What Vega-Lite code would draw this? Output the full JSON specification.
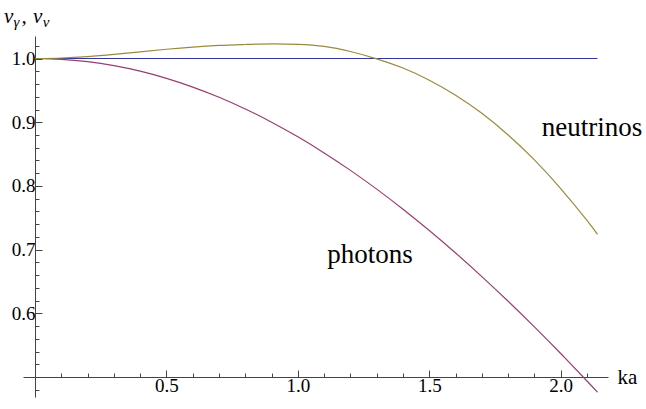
{
  "$schema": "https://vega.github.io/schema/vega-lite/v6.json",
  "width": 585,
  "height": 361,
  "autosize": {"type": "none"},
  "padding": {"left": 23, "top": 36, "right": 38, "bottom": 12},
  "background": "white",
  "config": {"view": {"stroke": null}},
  "datasets": {
    "curves": [
      {"series": "flat", "ka": 0, "v": 1.0},
      {"series": "flat", "ka": 2.14, "v": 1.0},
      {"series": "photons", "ka": 0, "v": 1.0},
      {"series": "photons", "ka": 0.1, "v": 0.9987},
      {"series": "photons", "ka": 0.2, "v": 0.995},
      {"series": "photons", "ka": 0.3, "v": 0.9887},
      {"series": "photons", "ka": 0.4, "v": 0.9801},
      {"series": "photons", "ka": 0.5, "v": 0.9688},
      {"series": "photons", "ka": 0.6, "v": 0.9552},
      {"series": "photons", "ka": 0.7, "v": 0.9392},
      {"series": "photons", "ka": 0.8, "v": 0.9208},
      {"series": "photons", "ka": 0.9, "v": 0.9001},
      {"series": "photons", "ka": 1.0, "v": 0.8771},
      {"series": "photons", "ka": 1.1, "v": 0.8519},
      {"series": "photons", "ka": 1.2, "v": 0.8245},
      {"series": "photons", "ka": 1.3, "v": 0.7951},
      {"series": "photons", "ka": 1.4, "v": 0.7636},
      {"series": "photons", "ka": 1.5, "v": 0.7302},
      {"series": "photons", "ka": 1.6, "v": 0.695},
      {"series": "photons", "ka": 1.7, "v": 0.6579},
      {"series": "photons", "ka": 1.8, "v": 0.6192},
      {"series": "photons", "ka": 1.9, "v": 0.579},
      {"series": "photons", "ka": 2.0, "v": 0.5372},
      {"series": "photons", "ka": 2.1, "v": 0.4941},
      {"series": "photons", "ka": 2.14, "v": 0.4765},
      {"series": "neutrinos", "ka": 0, "v": 1.0},
      {"series": "neutrinos", "ka": 0.1, "v": 1.0008},
      {"series": "neutrinos", "ka": 0.2, "v": 1.003},
      {"series": "neutrinos", "ka": 0.3, "v": 1.0065},
      {"series": "neutrinos", "ka": 0.4, "v": 1.0105},
      {"series": "neutrinos", "ka": 0.5, "v": 1.0145},
      {"series": "neutrinos", "ka": 0.6, "v": 1.018},
      {"series": "neutrinos", "ka": 0.7, "v": 1.0205},
      {"series": "neutrinos", "ka": 0.8, "v": 1.022},
      {"series": "neutrinos", "ka": 0.9, "v": 1.023},
      {"series": "neutrinos", "ka": 1.0, "v": 1.0222},
      {"series": "neutrinos", "ka": 1.1, "v": 1.019},
      {"series": "neutrinos", "ka": 1.2, "v": 1.011},
      {"series": "neutrinos", "ka": 1.3, "v": 0.9995},
      {"series": "neutrinos", "ka": 1.4, "v": 0.985},
      {"series": "neutrinos", "ka": 1.5, "v": 0.966},
      {"series": "neutrinos", "ka": 1.6, "v": 0.9425},
      {"series": "neutrinos", "ka": 1.7, "v": 0.914},
      {"series": "neutrinos", "ka": 1.8, "v": 0.88},
      {"series": "neutrinos", "ka": 1.9, "v": 0.841},
      {"series": "neutrinos", "ka": 2.0, "v": 0.796},
      {"series": "neutrinos", "ka": 2.1, "v": 0.746},
      {"series": "neutrinos", "ka": 2.14, "v": 0.724}
    ],
    "labels": [
      {"text": "photons", "ka": 1.112, "v": 0.6787},
      {"text": "neutrinos", "ka": 1.928, "v": 0.8777}
    ],
    "mainsym": [
      {"text": "v", "ka": -0.118, "v": 1.0564},
      {"text": ",", "ka": -0.052, "v": 1.0564},
      {"text": "v", "ka": -0.008, "v": 1.0564}
    ],
    "subsym": [
      {"text": "γ", "ka": -0.082, "v": 1.0502},
      {"text": "ν", "ka": 0.029, "v": 1.0502}
    ]
  },
  "layer": [
    {
      "data": {"name": "curves"},
      "mark": {"type": "line", "strokeWidth": 1.2, "clip": true, "interpolate": "natural"},
      "encoding": {
        "x": {
          "field": "ka", "type": "quantitative",
          "scale": {"domain": [-0.046, 2.18], "nice": false, "zero": false},
          "axis": {
            "orient": "bottom", "offset": -20, "values": [0.5, 1.0, 1.5, 2.0], "format": ".1f",
            "tickSize": -7, "tickColor": "#444", "domainColor": "#444", "domainWidth": 1, "tickWidth": 1,
            "grid": false, "labelFontSize": 19, "labelColor": "black", "labelFont": "Liberation Serif",
            "labelPadding": 6, "labelFlush": false,
            "title": "ka", "titleX": 594, "titleY": 0, "titleAlign": "left", "titleBaseline": "middle",
            "titleAngle": 0, "titleFontSize": 21, "titleFontWeight": "normal", "titleColor": "black",
            "titleFont": "Liberation Serif"
          }
        },
        "y": {
          "field": "v", "type": "quantitative",
          "scale": {"domain": [0.469, 1.0353], "nice": false, "zero": false},
          "axis": {
            "orient": "left", "offset": -12, "values": [0.6, 0.7, 0.8, 0.9, 1.0], "format": ".1f",
            "tickSize": -7, "tickColor": "#444", "domainColor": "#444", "domainWidth": 1, "tickWidth": 1,
            "grid": false, "labelFontSize": 19, "labelColor": "black", "labelFont": "Liberation Serif",
            "labelPadding": 7, "labelFlush": false, "title": null
          }
        },
        "color": {
          "field": "series", "type": "nominal",
          "scale": {"domain": ["flat", "photons", "neutrinos"], "range": ["#35359f", "#993d71", "#998b3d"]},
          "legend": null
        }
      }
    },
    {
      "data": {"name": "curves"},
      "mark": {"type": "point", "opacity": 0},
      "encoding": {
        "x": {
          "field": "ka", "type": "quantitative",
          "axis": {
            "orient": "bottom", "offset": -20,
            "values": [0.1, 0.2, 0.3, 0.4, 0.6, 0.7, 0.8, 0.9, 1.1, 1.2, 1.3, 1.4, 1.6, 1.7, 1.8, 1.9, 2.1],
            "tickSize": -4, "tickColor": "#444", "tickWidth": 1, "domain": false, "labels": false, "grid": false, "title": null
          }
        },
        "y": {
          "field": "v", "type": "quantitative",
          "axis": {
            "orient": "left", "offset": -12,
            "values": [0.48, 0.52, 0.54, 0.56, 0.58, 0.62, 0.64, 0.66, 0.68, 0.72, 0.74, 0.76, 0.78, 0.82, 0.84, 0.86, 0.88, 0.92, 0.94, 0.96, 0.98, 1.02],
            "tickSize": -4, "tickColor": "#444", "tickWidth": 1, "domain": false, "labels": false, "grid": false, "title": null
          }
        }
      }
    },
    {
      "data": {"name": "labels"},
      "mark": {"type": "text", "align": "left", "baseline": "alphabetic", "font": "Liberation Serif", "fontSize": 27, "color": "black"},
      "encoding": {
        "x": {"field": "ka", "type": "quantitative", "axis": null},
        "y": {"field": "v", "type": "quantitative", "axis": null},
        "text": {"field": "text"}
      }
    },
    {
      "data": {"name": "mainsym"},
      "mark": {"type": "text", "align": "left", "baseline": "alphabetic", "font": "Liberation Serif", "fontStyle": "italic", "fontSize": 21, "color": "black"},
      "encoding": {
        "x": {"field": "ka", "type": "quantitative", "axis": null},
        "y": {"field": "v", "type": "quantitative", "axis": null},
        "text": {"field": "text"}
      }
    },
    {
      "data": {"name": "subsym"},
      "mark": {"type": "text", "align": "left", "baseline": "alphabetic", "font": "Liberation Serif", "fontStyle": "italic", "fontSize": 15, "color": "black"},
      "encoding": {
        "x": {"field": "ka", "type": "quantitative", "axis": null},
        "y": {"field": "v", "type": "quantitative", "axis": null},
        "text": {"field": "text"}
      }
    }
  ],
  "resolve": {"axis": {"x": "independent", "y": "independent"}}
}
